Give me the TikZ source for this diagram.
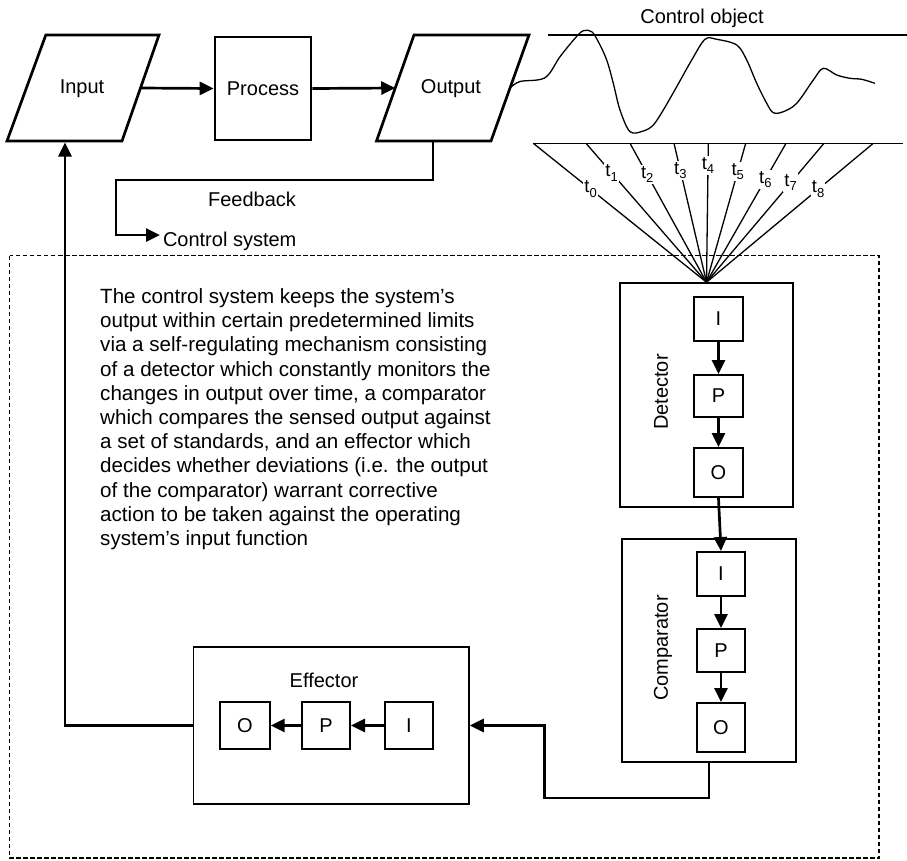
\documentclass[tikz,border=0pt]{standalone}
\usepackage{fontspec}
\setmainfont{Liberation Sans}
\usetikzlibrary{arrows.meta,calc}
\newcommand\tlabtxt[1]{t\raisebox{-4.5pt}{\fontsize{13}{13}\selectfont #1}}
\begin{document}
\begin{tikzpicture}[x=1pt,y=-1pt,
  every node/.style={font=\fontsize{20}{24}\selectfont},
  heavy/.style={line width=2.7pt},
  arr/.style={line width=2.7pt,-{Triangle[length=14pt,width=13pt]}},
  thinline/.style={line width=1.3pt},
  procbox/.style={draw, line width=2.7pt, inner sep=0pt},
  outerbox/.style={draw, line width=1.5pt, inner sep=0pt},
  ipo/.style={draw, line width=2pt, inner sep=0pt},
  tlab/.style={fill=white, inner sep=1.2pt, font=\fontsize{18.5}{18.5}\selectfont},
  dashline/.style={line width=1.6pt, dash pattern=on 4.5pt off 2.5pt}]
\useasboundingbox (0,0) rectangle (907,860);

% ---- Input parallelogram
\coordinate (inTL) at (45.8,35);
\coordinate (inTR) at (159,35);
\coordinate (inBR) at (122,141);
\coordinate (inBL) at (7,141);
\draw[heavy] (inBL) -- (inTL) -- (inTR) -- (inBR) -- cycle;
\node (input) at (82,89) {Input};
\coordinate (inR) at ($(inTR)!0.5!(inBR)$);
\coordinate (inB) at (65,142.5);

% ---- Process
\node[procbox, minimum width=96, minimum height=103] (process) at (263,88.5) {Process};

% ---- Output parallelogram
\coordinate (outTL) at (414,35);
\coordinate (outTR) at (529,35);
\coordinate (outBR) at (491,141);
\coordinate (outBL) at (376.5,141);
\draw[heavy] (outBL) -- (outTL) -- (outTR) -- (outBR) -- cycle;
\node (output) at (451,89) {Output};
\coordinate (outL) at ($(outTL)!0.5!(outBL)$);
\coordinate (outR) at ($(outTR)!0.5!(outBR)$);
\coordinate (outB) at (433,141);

\draw[arr] (inR) -- (process.west);
\draw[arr] (process.east) -- (outL);

% ---- Feedback
\node (fb) at (252,199) {Feedback};
\node[anchor=base west, inner sep=0pt, outer sep=0pt] (cs) at (163,246) {Control system};
\coordinate (fbL) at (116,180);
\draw[arr] (outB) |- (fbL) |- ([xshift=-3pt,yshift=5.8pt]cs.west);

% ---- Control object
\node[anchor=base] (cobj) at (702,23.5) {Control object};
\draw[thinline] (548,35) -- (907,35);
\draw[thinline] plot[smooth, tension=0.55] coordinates {(outR) (520,81.5) (545,77.7) (560,56.7) (575,38.3) (583.3,30.7) (591.7,31.7) (598.3,41.7) (606.7,60) (613.3,83.3) (620,110) (630,131.7) (643.3,131) (653.3,125) (663.3,110) (676.7,86.7) (691.7,60) (705,39.3) (716.7,39.3) (736.7,45) (746.7,60) (756.7,83.3) (766.7,103.3) (773.3,112.7) (783.3,111.7) (796.7,103.3) (813.3,80) (823.3,68.3) (836.7,75) (850,78.3) (861.7,79.3) (875,83.3)};
\draw[thinline] (533,143.3) -- (903,143.3);

% ---- Dashed control system frame
\draw[dashline] (9.5,255.5) rectangle (879,858);

% ---- Detector
\node[outerbox, minimum width=173, minimum height=224] (det) at (706.5,395) {};
\node[rotate=90] (detl) at (661,392) {Detector};
\node[ipo, minimum width=49, minimum height=44] (dI) at (718.5,319) {I};
\node[ipo, minimum width=49, minimum height=42] (dP) at (718.5,396) {P};
\node[ipo, minimum width=49, minimum height=49] (dO) at (718.5,472.5) {O};
\draw[arr] (dI.south) -- (dP.north);
\draw[arr] (dP.south) -- (dO.north);

% ---- fan of sampling lines
\coordinate (b0) at (533.3,143.3);
\coordinate (b1) at (586,143.3);
\coordinate (b2) at (630,143.3);
\coordinate (b3) at (674,143.3);
\coordinate (b4) at (708.3,143.3);
\coordinate (b5) at (745.7,143.3);
\coordinate (b6) at (786,143.3);
\coordinate (b7) at (824,143.3);
\coordinate (b8) at (873.3,143.3);
\draw[thinline] (b0) -- node[tlab, pos=.331] (l0) {\tlabtxt{0}} (det.north);
\draw[thinline] (b1) -- node[tlab, pos=.213] (l1) {\tlabtxt{1}} (det.north);
\draw[thinline] (b2) -- node[tlab, pos=.225] (l2) {\tlabtxt{2}} (det.north);
\draw[thinline] (b3) -- node[tlab, pos=.195] (l3) {\tlabtxt{3}} (det.north);
\draw[thinline] (b4) -- node[tlab, pos=.16] (l4) {\tlabtxt{4}} (det.north);
\draw[thinline] (b5) -- node[tlab, pos=.202] (l5) {\tlabtxt{5}} (det.north);
\draw[thinline] (b6) -- node[tlab, pos=.26] (l6) {\tlabtxt{6}} (det.north);
\draw[thinline] (b7) -- node[tlab, pos=.284] (l7) {\tlabtxt{7}} (det.north);
\draw[thinline] (b8) -- node[tlab, pos=.331] (l8) {\tlabtxt{8}} (det.north);

% ---- Comparator
\node[outerbox, minimum width=174, minimum height=223] (comp) at (709,650.5) {};
\node[rotate=90] (compl) at (663,648) {Comparator};
\node[ipo, minimum width=48, minimum height=44] (cI) at (721,574) {I};
\node[ipo, minimum width=48, minimum height=43] (cP) at (721,650.5) {P};
\node[ipo, minimum width=48, minimum height=49] (cO) at (721,727.5) {O};
\draw[arr] (cI.south) -- (cP.north);
\draw[arr] (cP.south) -- (cO.north);
\draw[arr] (dO.south) -- (cI.north);

% ---- Effector
\node[outerbox, minimum width=275.4, minimum height=157] (eff) at (331.3,725.5) {};
\node (effl) at (324,680) {Effector};
\node[ipo, minimum width=49.6, minimum height=47] (eO) at (244.8,725.5) {O};
\node[ipo, minimum width=48, minimum height=47] (eP) at (326,725.5) {P};
\node[ipo, minimum width=48.6, minimum height=47] (eI) at (409,725.5) {I};
\draw[arr] (eI.west) -- (eP.east);
\draw[arr] (eP.west) -- (eO.east);

\coordinate (cb) at (544.6,798);
\draw[arr] (comp.south) |- (cb) |- (eff.east);
\draw[arr] (eff.west) -| (inB);

% ---- description
\node[anchor=north west, inner sep=0pt, align=left, font=\fontsize{20.6}{24.2}\selectfont] (desc) at (100,288.3)
{The control system keeps the system’s\\
output within certain predetermined limits\\
via a self-regulating mechanism consisting\\
of a detector which constantly monitors the\\
changes in output over time, a comparator\\
which compares the sensed output against\\
a set of standards, and an effector which\\
decides whether deviations (i.e. the output\\
of the comparator) warrant corrective\\
action to be taken against the operating\\
system’s input function};
\end{tikzpicture}
\end{document}
